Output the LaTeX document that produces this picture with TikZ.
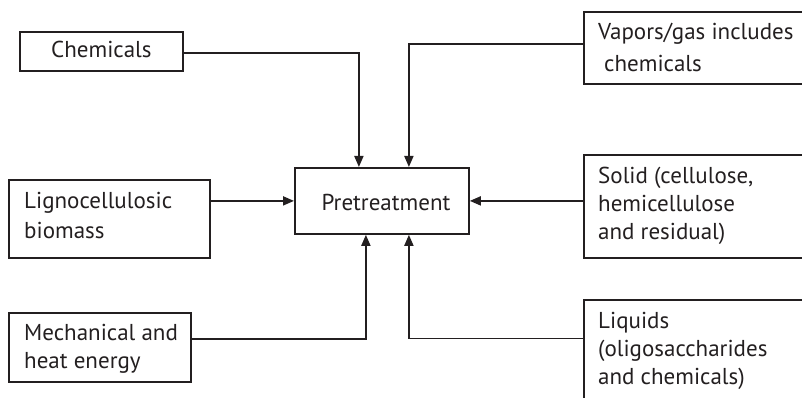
\documentclass[tikz,border=0pt]{standalone}
\usepackage{fontspec}
\setmainfont{PT Sans}
\usetikzlibrary{arrows.meta}
\definecolor{ink}{HTML}{231F20}
\begin{document}
\begin{tikzpicture}[x=1pt,y=1pt,
  box/.style={draw=ink,line width=1.8pt,inner sep=0pt,anchor=north west},
  lbl/.style={inner sep=0pt,anchor=base west,align=left,text=ink,font=\fontsize{23}{28}\selectfont},
  arr/.style={draw=ink,line width=1.8pt,-{Triangle[length=11pt,width=9pt]}}]
\useasboundingbox (0,0) rectangle (802,-398);
% boxes (x from left, y down)
\node[box,minimum width=163pt,minimum height=39pt] (chem) at (19,-31) {};
\node[box,minimum width=240pt,minimum height=72pt] (vap) at (583,-11) {};
\node[box,minimum width=174pt,minimum height=66pt] (pre) at (294,-167) {};
\node[box,minimum width=201pt,minimum height=78pt] (lig) at (8,-179) {};
\node[box,minimum width=240pt,minimum height=103pt] (sol) at (583,-154) {};
\node[box,minimum width=182pt,minimum height=69pt] (mech) at (8,-312) {};
\node[box,minimum width=240pt,minimum height=120pt] (liq) at (583,-299) {};
% texts (base anchor = baseline of last line)
\node[lbl,anchor=base] (chemT) at (chem.center |- 0,-58) {Chemicals};
\node[lbl] (vapT) at (598,-72) {Vapors/gas includes\\[4pt] \hspace{6pt}chemicals};
\node[lbl,anchor=base] (preT) at (386,-210) {Pretreatment};
\node[lbl] (ligT) at (24,-238) {Lignocellulosic\\[2pt]biomass};
\node[lbl] (solT) at (598,-239) {Solid (cellulose,\\hemicellulose\\and residual)};
\node[lbl] (mechT) at (24,-368) {Mechanical and\\heat energy};
\node[lbl] (liqT) at (598,-384) {Liquids\\(oligosaccharides\\and chemicals)};
% connectors
\draw[arr] ([yshift=-1.5pt]chem.east) -| ([xshift=-23pt]pre.north);
\draw[arr] ([yshift=4pt]vap.west) -| ([xshift=27pt]pre.north);
\draw[arr] (lig.east |- pre.west) -- (pre.west);
\draw[arr] (sol.west |- pre.east) -- (pre.east);
\draw[arr] ([yshift=8.5pt]mech.east) -| ([xshift=-16pt]pre.south);
\draw[arr] ([yshift=21.5pt]liq.west) -| ([xshift=27pt]pre.south);
\end{tikzpicture}
\end{document}
